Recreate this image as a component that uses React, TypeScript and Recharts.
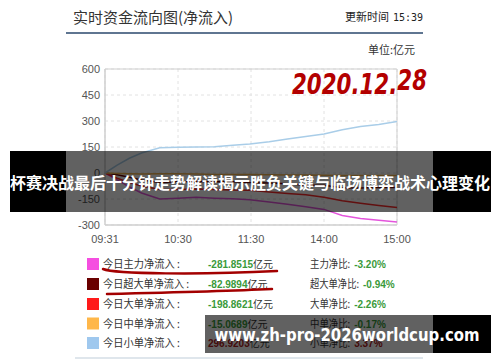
import React from "react";
import { LineChart, Line, XAxis, YAxis, CartesianGrid, ReferenceArea } from "recharts";

// minute index from 09:31 (0) to 15:00 (240)
const minutes = [0, 10, 20, 30, 45, 60, 75, 90, 105, 119, 135, 150, 165, 180, 195, 210, 225, 240];
const mainFlow = [0, -40, -80, -115, -150, -145, -140, -145, -148, -155, -168, -180, -195, -210, -245, -262, -272, -282];
const superFlow = [0, -10, -25, -40, -55, -50, -48, -50, -50, -55, -58, -62, -70, -70, -85, -87, -84, -83];
const largeFlow = [0, -30, -55, -75, -95, -95, -92, -95, -98, -100, -110, -118, -125, -140, -160, -175, -188, -199];
const mediumFlow = [0, -3, -5, -6, -5, -4, -6, -8, -8, -9, -10, -11, -12, -13, -14, -14, -15, -15];
const smallFlow = [0, 45, 85, 115, 145, 148, 150, 152, 160, 167, 180, 196, 210, 225, 250, 268, 280, 297];

const xTicks = [0, 60, 120, 180, 240];
const xTickLabels = ["09:31", "10:30", "11:30", "14:00", "15:00"];
const yTicks = [-300, -150, 0, 150, 300, 450, 600];

const legendNames = ["今日主力净流入", "今日超大单净流入", "今日大单净流入", "今日中单净流入", "今日小单净流入"];
const legendColors = ["#f54ee0", "#6a0000", "#ff1a1a", "#ffb74a", "#9fc8ee"];
const legendValues = ["-281.8515", "-82.9894", "-198.8621", "-15.0689", "296.9203"];
const ratioNames = ["主力净比", "超大单净比", "大单净比", "中单净比", "小单净比"];
const ratioValues = ["-3.20%", "-0.94%", "-2.26%", "-0.17%", "3.37%"];

const lineColors = ["#e455dc", "#6a0000", "#ff2a2a", "#f5b550", "#a9cde8"];
const seriesKeys = ["main", "superL", "large", "medium", "small"];
const seriesData = [mainFlow, superFlow, largeFlow, mediumFlow, smallFlow];

const data = minutes.map((t, i) => {
  const row: Record<string, number> = { t };
  seriesKeys.forEach((k, j) => {
    row[k] = seriesData[j][i];
  });
  return row;
});

const cjk = "'Noto Sans CJK SC', 'Liberation Sans', sans-serif";
const latin = "'Liberation Sans', Arial, sans-serif";

export default function App() {
  const rowY = [264, 284, 304, 323.5, 343];
  const charW = 9.4;
  return (
    <div style={{ position: "absolute", left: 0, top: 0, width: 500, height: 362, background: "#fff", overflow: "hidden" }}>
      <div style={{ position: "absolute", left: 0, top: 0 }}>
        <LineChart width={500} height={362} data={data} margin={{ top: 69, right: 103, left: 65, bottom: 117 }}>
          <CartesianGrid stroke="#e2e2e2" strokeDasharray="3 3" />
          <ReferenceArea x1={0} x2={240} y1={-300} y2={600} fill="none" stroke="#cfcfcf" strokeWidth={1} />
          <XAxis
            dataKey="t"
            type="number"
            domain={[0, 240]}
            ticks={xTicks}
            tickFormatter={(v: number) => xTickLabels[xTicks.indexOf(v)] ?? ""}
            height={20}
            axisLine={{ stroke: "#cfcfcf" }}
            tickLine={false}
            tickSize={0}
            tickMargin={10}
            tick={{ fill: "#555", fontSize: 11, fontFamily: latin }}
          />
          <YAxis
            type="number"
            domain={[-300, 600]}
            ticks={yTicks}
            width={40}
            axisLine={{ stroke: "#cfcfcf" }}
            tickLine={false}
            tickSize={0}
            tickMargin={5}
            tick={{ fill: "#555", fontSize: 11, fontFamily: latin }}
          />
          {seriesKeys.map((k, j) => (
            <Line
              key={k}
              dataKey={k}
              type="linear"
              stroke={lineColors[j]}
              strokeWidth={1.5}
              dot={false}
              isAnimationActive={false}
            />
          ))}
        </LineChart>
      </div>
      <svg width={500} height={362} style={{ position: "absolute", left: 0, top: 0, pointerEvents: "none" }}>
        {/* header */}
        <text x={73} y={23} fontSize={15} fill="#333" fontFamily={cjk}>实时资金流向图(净流入)</text>
        <text x={345} y={21} fontSize={11} fill="#222" fontFamily={cjk}>
          更新时间
          <tspan x={393} fontFamily="'DejaVu Sans Mono', monospace" fontSize={10}>15:39</tspan>
        </text>
        <line x1={66} x2={423} y1={33} y2={33} stroke="#5f7591" strokeWidth={2} />
        <text x={415} y={54} fontSize={11} fill="#333" fontFamily={cjk} textAnchor="end">单位:亿元</text>

        {/* handwritten date */}
        <text x={292} y={94} fontSize={28} fontWeight={900} fontStyle="italic" fill="#b30000" fontFamily="'DejaVu Sans', sans-serif" textLength={135} lengthAdjust="spacingAndGlyphs">
          2020.12.<tspan dy={-4}>28</tspan>
        </text>

        {/* legend table */}
        {legendNames.map((n, i) => {
          const labelLen = charW * n.length + 11;
          const ratioLen = 8.8 * ratioNames[i].length + 5;
          const valColor = i === 4 ? "#b02020" : "#3a9a3a";
          return (
            <g key={n}>
              <rect x={87} y={rowY[i] - 6} width={12} height={12} fill={legendColors[i]} />
              <text x={103} y={rowY[i] + 4} fontSize={11} fill="#333" fontFamily={cjk} textLength={labelLen} lengthAdjust="spacingAndGlyphs">{n + " :"}</text>
              <text x={208} y={rowY[i] + 4} fontSize={10} fill="#333" fontFamily={cjk}>
                <tspan fontWeight="bold" fill={valColor} fontFamily={latin}>{legendValues[i]}</tspan>
                <tspan>亿元</tspan>
              </text>
              <text x={310} y={rowY[i] + 4} fontSize={11} fill="#333" fontFamily={cjk}>
                <tspan textLength={ratioLen} lengthAdjust="spacingAndGlyphs">{ratioNames[i] + ":"}</tspan>
                <tspan dx={4} fontSize={10} fontWeight="bold" fill={valColor} fontFamily={latin}>{ratioValues[i]}</tspan>
              </text>
            </g>
          );
        })}
        {/* red hand-drawn underlines */}
        <path d="M103 269 C115 274, 200 275, 277 271" stroke="#a30000" strokeWidth={2.5} fill="none" strokeLinecap="round" />
        <path d="M107 294 C150 293, 230 291, 272 289" stroke="#a30000" strokeWidth={2.5} fill="none" strokeLinecap="round" />
        <line x1={75} x2={423} y1={358} y2={358} stroke="#dfe6ec" strokeWidth={2} />

        {/* top banner */}
        <rect x={10} y={151} width={56} height={61} fill="#000" />
        <rect x={66} y={151} width={367} height={61} fill="rgba(0,0,0,0.62)" />
        <rect x={433} y={151} width={58} height={61} fill="#000" />
        <text x={250} y={182} textAnchor="middle" dominantBaseline="central" fontSize={16} fontWeight="bold" fill="#fff" fontFamily={cjk} textLength={480} lengthAdjust="spacingAndGlyphs">
          杯赛决战最后十分钟走势解读揭示胜负关键与临场博弈战术心理变化
        </text>

        {/* bottom banner */}
        <rect x={205} y={315} width={228} height={38} fill="rgba(0,0,0,0.62)" />
        <rect x={433} y={315} width={58} height={38} fill="#000" />
        <text x={347} y={335} textAnchor="middle" dominantBaseline="central" fontSize={17} fontWeight="bold" fill="#fff" fontFamily="'DejaVu Sans', sans-serif" textLength={265} lengthAdjust="spacingAndGlyphs">
          www.zh-pro-2026worldcup.com
        </text>
      </svg>
    </div>
  );
}
